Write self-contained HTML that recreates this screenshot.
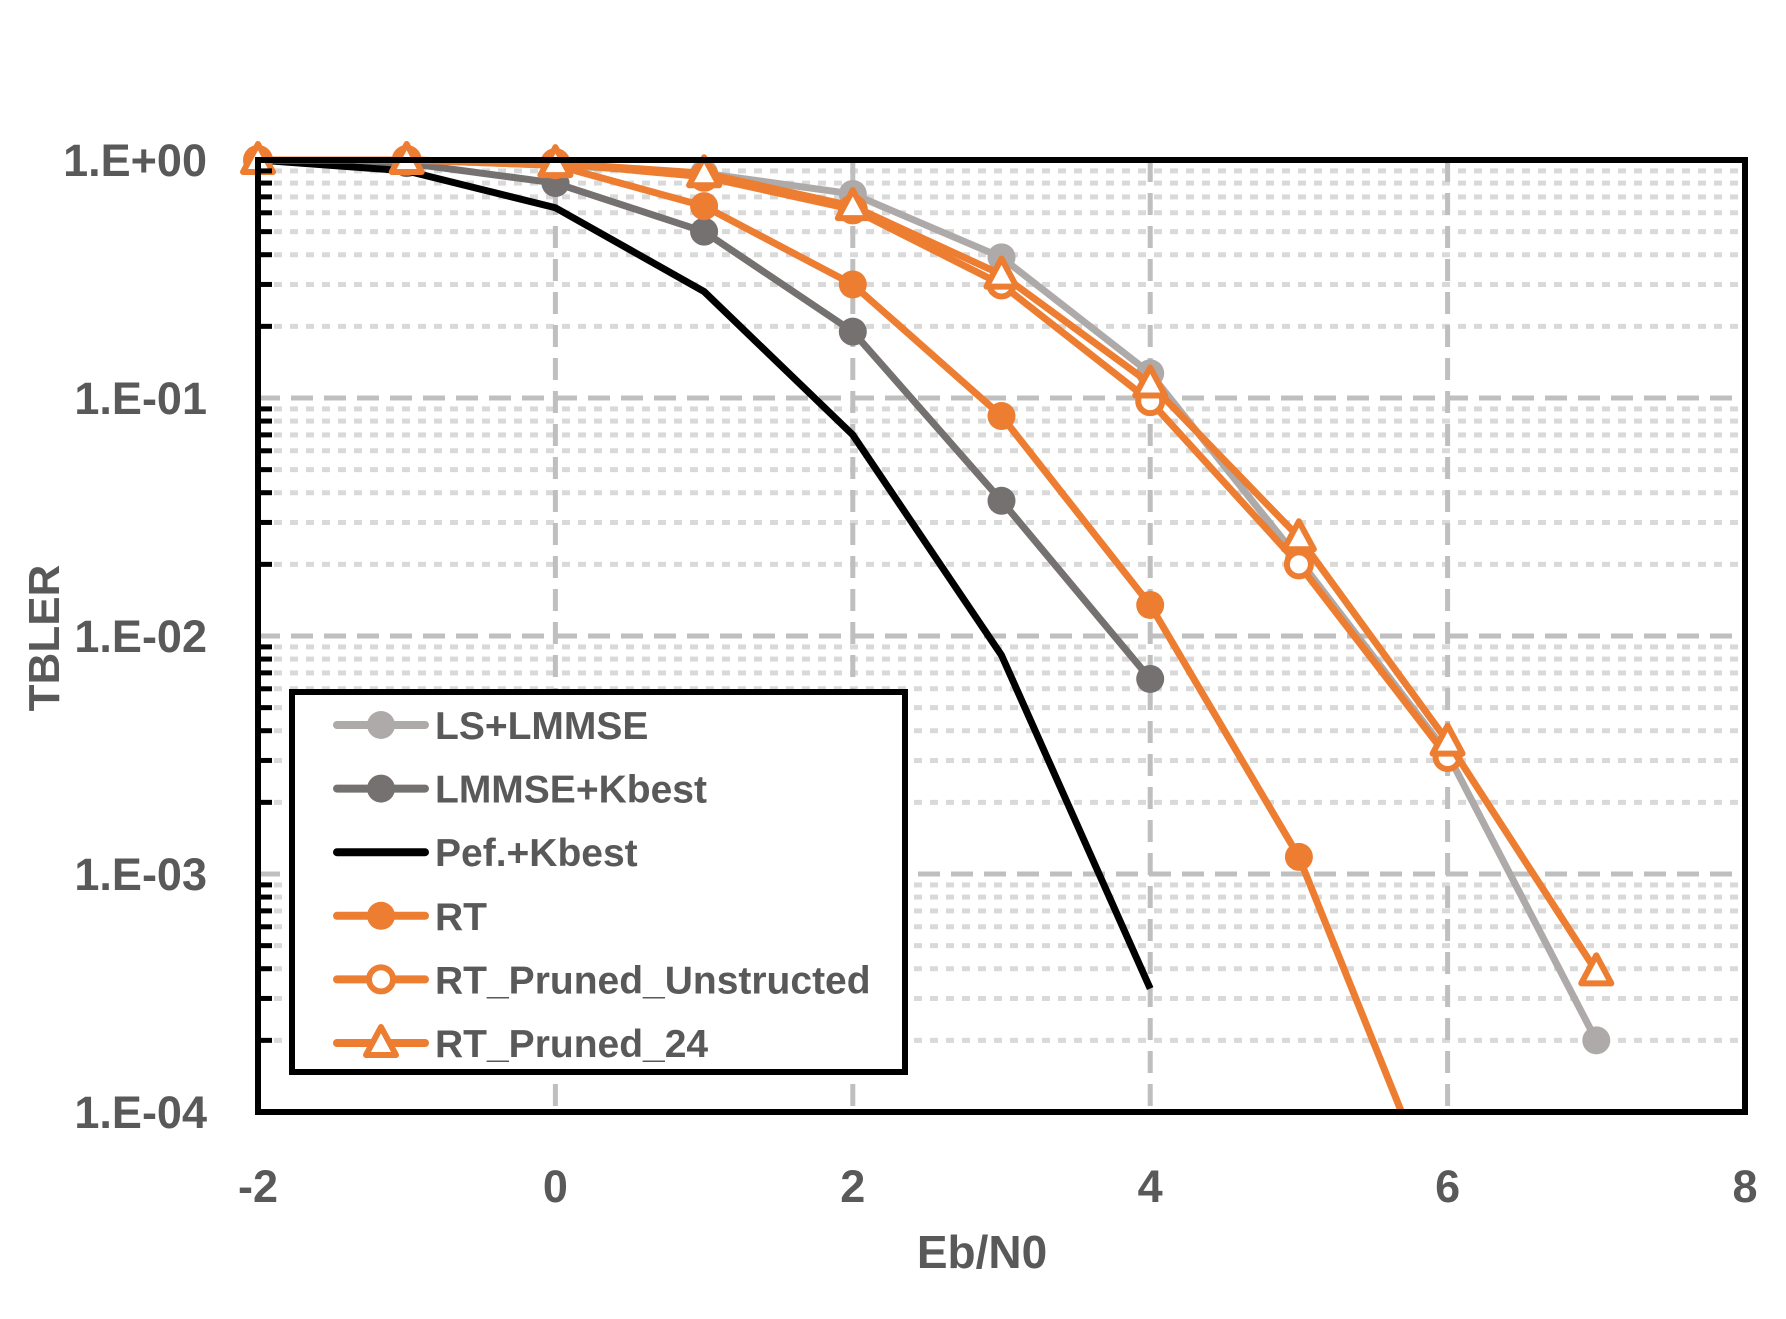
<!DOCTYPE html>
<html><head><meta charset="utf-8"><style>
html,body{margin:0;padding:0;background:#fff;}
svg{display:block;font-family:"Liberation Sans",sans-serif;font-weight:bold;}
</style></head><body>
<svg id="chart" width="1786" height="1319" viewBox="0 0 1786 1319" xmlns="http://www.w3.org/2000/svg">
<g id="grid"></g>
<g id="series"></g>
<g id="axes"></g>
<g id="legend"></g>
</svg>
<script>
const xValues = [-2,-1,0,1,2,3,4,5,6,7];
const lsLmmse = [1,1,0.95,0.88,0.72,0.39,0.127,0.021,0.0032,0.0002];
const lmmseKbest = [1,0.97,0.80,0.50,0.19,0.037,0.0066];
const pefKbest = [1,0.90,0.63,0.28,0.070,0.0083,0.00033];
const rt = [1,1,0.95,0.64,0.30,0.084,0.0135,0.00118,0.000033];
const rtUnstructured = [1,1,0.97,0.85,0.62,0.30,0.097,0.020,0.0031];
const rt24 = [1,1,0.97,0.88,0.64,0.33,0.115,0.026,0.0036,0.00039];
const xTicks = [-2,0,2,4,6,8];
const yTickExps = [0,-1,-2,-3,-4];
const yTickLabels = ["1.E+00","1.E-01","1.E-02","1.E-03","1.E-04"];
const seriesNames = ["LS+LMMSE","LMMSE+Kbest","Pef.+Kbest","RT","RT_Pruned_Unstructed","RT_Pruned_24"];

const NS="http://www.w3.org/2000/svg";
const L=258,R=1745,T=160,B=1112;
const X=v=>L+(v+2)/10*(R-L);
const Y=v=>T+(-Math.log10(v))/4*(B-T);
function mk(tag,attrs,parent){const e=document.createElementNS(NS,tag);for(const k in attrs)e.setAttribute(k,attrs[k]);parent.appendChild(e);return e;}
const grid=document.getElementById('grid'),axes=document.getElementById('axes'),ser=document.getElementById('series'),leg=document.getElementById('legend');

for(let d=0;d<4;d++){for(let m=2;m<=9;m++){const v=Math.pow(10,-d-1)*m;
 const ln=mk('line',{x1:L,x2:R,y1:Y(v),y2:Y(v),stroke:'#d9d9d9','stroke-width':5,'stroke-dasharray':'8 8'},grid);
 
 
 const tk=mk('line',{x1:L,x2:L+14,y1:Y(v),y2:Y(v),stroke:'#000','stroke-width':5},axes);
 
 
}}
yTickExps.forEach((e,i)=>{const y=Y(Math.pow(10,e));
 if(e!==0&&e!==-4){const ln=mk('line',{x1:L,x2:R,y1:y,y2:y,stroke:'#bfbfbf','stroke-width':5,'stroke-dasharray':'22 11'},grid);
 
 }
 const t=mk('text',{x:207,y:y+16,'text-anchor':'end','font-size':45,fill:'#595959'},axes);t.textContent=yTickLabels[i];
 
 
});
xTicks.forEach(v=>{const x=X(v);
 if(v!==-2&&v!==8){const ln=mk('line',{x1:x,x2:x,y1:T,y2:B,stroke:'#bfbfbf','stroke-width':5,'stroke-dasharray':'22 11'},grid);
 
 }
 const t=mk('text',{x:x,y:1202,'text-anchor':'middle','font-size':45,fill:'#595959'},axes);t.textContent=String(v);
 
 
});
const fr=mk('rect',{x:L,y:T,width:R-L,height:B-T,fill:'none',stroke:'#000','stroke-width':6},axes);


const xt=mk('text',{x:982,y:1268,'text-anchor':'middle','font-size':46,fill:'#595959'},axes);xt.textContent='Eb/N0';


const yt=mk('text',{x:0,y:0,'text-anchor':'middle','font-size':44,fill:'#595959',transform:'translate(59,638) rotate(-90)'},axes);yt.textContent='TBLER';



const defs=[
 {d:lsLmmse,c:'#aeaaaa',m:'dot'},
 {d:lmmseKbest,c:'#767171',m:'dot'},
 {d:pefKbest,c:'#000000',m:'none'},
 {d:rt,c:'#ed7d31',m:'dot'},
 {d:rtUnstructured,c:'#ed7d31',m:'ring'},
 {d:rt24,c:'#ed7d31',m:'tri'}];
const clip=mk('clipPath',{id:'pc'},mk('defs',{},document.getElementById('chart')));
mk('rect',{x:L-40,y:T-40,width:R-L+80,height:B-T+40},clip);
function marker(type,x,y,c,parent,name){let e=null;
 if(type==='dot')e=mk('circle',{cx:x,cy:y,r:14,fill:c},parent);
 else if(type==='ring')e=mk('circle',{cx:x,cy:y,r:12,fill:'#fff',stroke:c,'stroke-width':6},parent);
 else if(type==='tri')e=mk('polygon',{points:`${x},${y-16} ${x+15},${y+12} ${x-15},${y+12}`,fill:'#fff',stroke:c,'stroke-width':6,'stroke-linejoin':'round'},parent);
 if(e){
 }}
defs.forEach((s,i)=>{
 const g=mk('g',{'clip-path':'url(#pc)'},ser);
 
 
 const pts=s.d.map((v,j)=>X(xValues[j])+','+Y(v)).join(' ');
 const pl=mk('polyline',{points:pts,fill:'none',stroke:s.c,'stroke-width':7,'stroke-linejoin':'round'},g);
 
 
 s.d.forEach((v,j)=>{if(v>=1e-4)marker(s.m,X(xValues[j]),Y(v),s.c,g,'data-point');});
});

const lb=mk('rect',{x:292,y:692,width:613,height:380,fill:'#fff',stroke:'#000','stroke-width':6},leg);


defs.forEach((s,i)=>{const y=725+i*63.6;
 const g=mk('g',{},leg);
 
 
 mk('line',{x1:337,x2:425,y1:y,y2:y,stroke:s.c,'stroke-width':8,'stroke-linecap':'round'},g);
 marker(s.m,381,y,s.c,g,'legend-marker');
 const t=mk('text',{x:435,y:y+14,'font-size':39,fill:'#595959'},g);t.textContent=seriesNames[i];
 
 
});
</script>
</body></html>
